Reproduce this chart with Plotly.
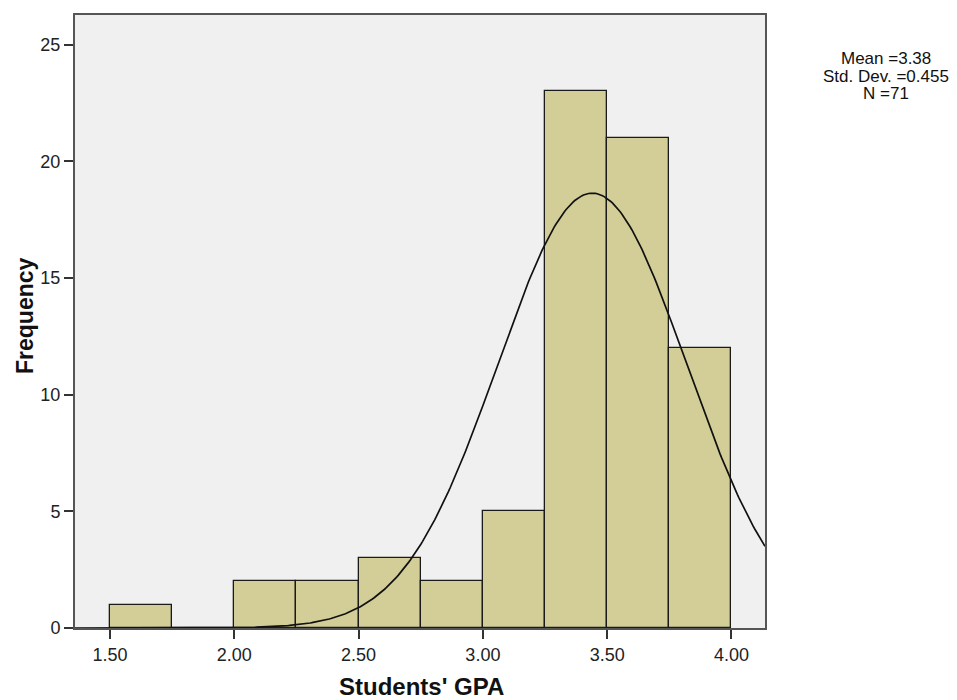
import numpy as np
import plotly.graph_objects as go

bin_starts = [1.50, 1.75, 2.00, 2.25, 2.50, 2.75, 3.00, 3.25, 3.50, 3.75]
frequencies = [1, 0, 2, 2, 3, 2, 5, 23, 21, 12]
bin_width = 0.25
n_total = 71
# normal curve as drawn in the picture
curve_mean = 3.44
curve_sd = 0.38
stats_text = ["Mean =3.38", "Std. Dev. =0.455", "N =71"]
x_title = "Students' GPA"
y_title = "Frequency"
x_ticks = [1.5, 2.0, 2.5, 3.0, 3.5, 4.0]
y_ticks = [0, 5, 10, 15, 20, 25]

x_range = [1.359, 4.135]
y_range = [0, 26.27]

W, H = 957, 700
L, R, T, B = 75, 192, 15, 72
pw, ph = W - L - R, H - T - B


def px_x(px):
    return (px - L) / pw


def px_y(py):
    return (H - B - py) / ph


centers = [s + bin_width / 2 for s in bin_starts]

fig = go.Figure()
fig.add_trace(go.Bar(
    x=centers, y=frequencies, width=bin_width,
    marker=dict(color="#D3CE97", line=dict(color="#1a1a1a", width=1.3)),
    showlegend=False, hoverinfo="skip",
))

xs = np.linspace(x_range[0], x_range[1], 400)
ys = n_total * bin_width / (curve_sd * np.sqrt(2 * np.pi)) * np.exp(-(xs - curve_mean) ** 2 / (2 * curve_sd ** 2))
fig.add_trace(go.Scatter(x=xs, y=ys, mode="lines", line=dict(color="#111111", width=1.7),
                         showlegend=False, hoverinfo="skip"))

annotations = []
for txt, py in zip(stats_text, [59, 76, 93]):
    annotations.append(dict(
        x=px_x(886), y=px_y(py), xref="paper", yref="paper", text=txt,
        showarrow=False, xanchor="center", yanchor="middle",
        font=dict(size=17, color="#111111"),
    ))
annotations.append(dict(
    x=px_x(421), y=px_y(702), xref="paper", yref="paper", text="<b>" + x_title + "</b>",
    showarrow=False, xanchor="center", yanchor="bottom",
    font=dict(size=24, color="#111111"),
))
annotations.append(dict(
    x=px_x(25), y=px_y(316), xref="paper", yref="paper", text="<b>" + y_title + "</b>",
    showarrow=False, xanchor="center", yanchor="middle", textangle=-90,
    font=dict(size=23, color="#111111"),
))

fig.update_layout(
    width=W, height=H,
    margin=dict(l=L, r=R, t=T, b=B),
    paper_bgcolor="white", plot_bgcolor="#F0F0F0",
    font=dict(family="Liberation Sans, Arial, sans-serif", size=16, color="#222222"),
    bargap=0,
    annotations=annotations,
)

fig.update_xaxes(
    range=x_range, tickvals=x_ticks, tickformat=".2f",
    showgrid=False, zeroline=False, automargin=False,
    showline=True, mirror=True, linecolor="#555555", linewidth=2,
    ticks="outside", ticklen=9, tickwidth=2, tickcolor="#333333",
    tickfont=dict(size=18, color="#222222"),
)
fig.update_yaxes(
    range=y_range, tickvals=y_ticks,
    showgrid=False, zeroline=False, automargin=False,
    showline=True, mirror=True, linecolor="#555555", linewidth=2,
    ticks="outside", ticklen=9, tickwidth=2, tickcolor="#333333",
    tickfont=dict(size=18, color="#222222"),
)

fig.write_html("out.html", config={"displayModeBar": False},
               post_script="document.body.style.margin='0';document.body.style.overflow='hidden';")
